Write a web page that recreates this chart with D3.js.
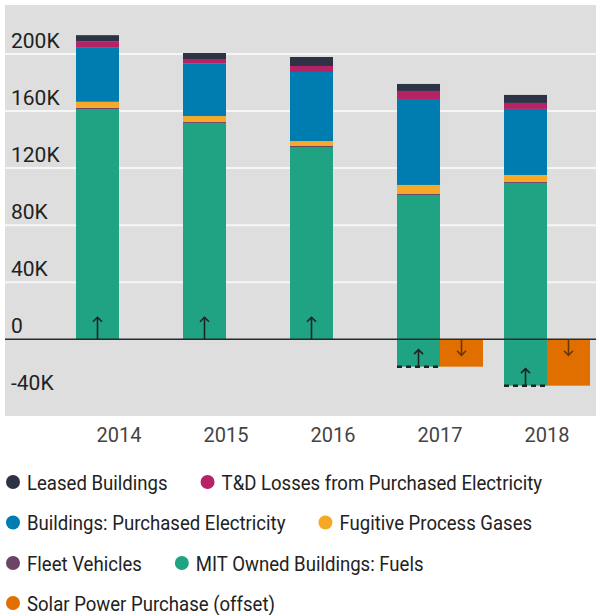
<!DOCTYPE html>
<html>
<head>
<meta charset="utf-8">
<script src="https://cdn.jsdelivr.net/npm/d3@7"></script>
<style>
  html, body { margin: 0; padding: 0; background: #fff; }
  svg { display: block; font-family: Roboto, "Noto Sans", sans-serif; }
</style>
</head>
<body>
<svg id="chart" width="596" height="615"></svg>
<script>
// ---- data (metric tons CO2e) ----
const years = ["2014", "2015", "2016", "2017", "2018"];
const ownedFuels = [161400, 151600, 134800, 120400, 142100];
const fleetVehicles = [900, 700, 700, 900, 700];
const fugitiveGases = [4200, 4200, 3500, 6100, 4900];
const purchasedElectricity = [38300, 36700, 48400, 59600, 46300];
const tdLosses = [4200, 3300, 4200, 6300, 4200];
const leasedBuildings = [4200, 4200, 6300, 4900, 5600];
const solarOffset = [0, 0, 0, 19200, 32500];
const yTicks = [-40000, 0, 40000, 80000, 120000, 160000, 200000];
const yTickLabels = ["-40K", "0", "40K", "80K", "120K", "160K", "200K"];

const seriesNames = ["MIT Owned Buildings: Fuels", "Fleet Vehicles", "Fugitive Process Gases",
  "Buildings: Purchased Electricity", "T&D Losses from Purchased Electricity", "Leased Buildings"];
const seriesValues = [ownedFuels, fleetVehicles, fugitiveGases, purchasedElectricity, tdLosses, leasedBuildings];
const colors = {
  "Leased Buildings": "#2e3245",
  "T&D Losses from Purchased Electricity": "#b52366",
  "Buildings: Purchased Electricity": "#007db0",
  "Fugitive Process Gases": "#f6a827",
  "Fleet Vehicles": "#6b4467",
  "MIT Owned Buildings: Fuels": "#1fa383",
  "Solar Power Purchase (offset)": "#e06f00"
};
const legendOrder = ["Leased Buildings", "T&D Losses from Purchased Electricity",
  "Buildings: Purchased Electricity", "Fugitive Process Gases",
  "Fleet Vehicles", "MIT Owned Buildings: Fuels", "Solar Power Purchase (offset)"];
const legendRows = [[0, 1], [2, 3], [4, 5], [6]];

// ---- layout ----
const svg = d3.select("#chart");
svg.append("rect").attr("x", 5).attr("y", 5).attr("width", 591).attr("height", 411).attr("fill", "#dedede");

const y = d3.scaleLinear().domain([0, 200000]).range([339.3, 54]);
const x = d3.scaleBand().domain(years).range([65.5, 600.5]).paddingInner(0.1963).paddingOuter(0.0981);
const xs = d3.scaleBand().domain(["emissions", "offset"]).range([0, x.bandwidth()]);

// gridlines
svg.append("g").selectAll("line").data(yTicks.filter(t => t > 0)).join("line")
  .attr("x1", 5).attr("x2", 596)
  .attr("y1", d => y(d)).attr("y2", d => y(d))
  .attr("stroke", "#f6f6f6").attr("stroke-width", 2);

// y labels
svg.append("g").selectAll("text").data(yTicks).join("text")
  .attr("x", 11).attr("y", d => y(d) - 6)
  .attr("font-size", 21).attr("fill", "#222")
  .text((d, i) => yTickLabels[i]);

// stacked data with baseline at -offset
const rows = years.map((yr, i) => {
  const r = { year: yr, offset: solarOffset[i] };
  seriesNames.forEach((s, k) => r[s] = seriesValues[k][i]);
  return r;
});
const stacked = d3.stack().keys(seriesNames)(rows);

const barG = svg.append("g");
stacked.forEach(layer => {
  barG.append("g").attr("fill", colors[layer.key]).selectAll("rect").data(layer).join("rect")
    .attr("x", d => x(d.data.year) + xs("emissions"))
    .attr("width", xs.bandwidth())
    .attr("y", d => y(d[1] - d.data.offset))
    .attr("height", d => y(d[0] - d.data.offset) - y(d[1] - d.data.offset));
});

// offset bars
const offRows = rows.filter(r => r.offset > 0);
svg.append("g").attr("fill", colors["Solar Power Purchase (offset)"]).selectAll("rect").data(offRows).join("rect")
  .attr("x", d => x(d.year) + xs("offset"))
  .attr("width", xs.bandwidth())
  .attr("y", y(0))
  .attr("height", d => y(-d.offset) - y(0));

// zero line
svg.append("line").attr("x1", 5).attr("x2", 596).attr("y1", y(0)).attr("y2", y(0))
  .attr("stroke", "#2a2a2a").attr("stroke-width", 1.6);

// dashed bottoms
svg.append("g").selectAll("line").data(offRows).join("line")
  .attr("x1", d => x(d.year) + xs("emissions")).attr("x2", d => x(d.year) + xs("emissions") + xs.bandwidth())
  .attr("y1", d => y(-d.offset)).attr("y2", d => y(-d.offset))
  .attr("stroke", "#222").attr("stroke-width", 2.5).attr("stroke-dasharray", "5,4");

// arrows
function arrow(g, cx, y0, len, dir, color) {
  const tip = y0 - dir * len;
  g.append("line").attr("x1", cx).attr("x2", cx).attr("y1", y0).attr("y2", tip)
    .attr("stroke", color).attr("stroke-width", 1.6);
  g.append("path").attr("d", `M${cx - 4.5},${tip + dir * 4.5}L${cx},${tip}L${cx + 4.5},${tip + dir * 4.5}`)
    .attr("fill", "none").attr("stroke", color).attr("stroke-width", 1.6);
}
const arrowG = svg.append("g");
rows.forEach(r => {
  const cx = x(r.year) + xs("emissions") + xs.bandwidth() / 2;
  arrow(arrowG, cx, y(-r.offset), r.offset > 0 ? 17 : 22, 1, "#222");
  if (r.offset > 0) {
    const ox = x(r.year) + xs("offset") + xs.bandwidth() / 2;
    arrow(arrowG, ox, y(0), 16, -1, "#6a3508");
  }
});

// x labels
svg.append("g").selectAll("text").data(years).join("text")
  .attr("x", d => x(d) + x.bandwidth() / 2).attr("y", 442)
  .attr("text-anchor", "middle").attr("font-size", 20).attr("fill", "#444")
  .text(d => d);

// legend
const squeeze = 0.885;
const legendG = svg.append("g");
const rowY = [482, 522.5, 563, 603];
legendRows.forEach((row, ri) => {
  let cx = 13;
  row.forEach(idx => {
    const name = legendOrder[idx];
    legendG.append("circle").attr("cx", cx).attr("cy", rowY[ri]).attr("r", 7).attr("fill", colors[name]);
    const t = legendG.append("text")
      .attr("transform", `translate(${cx + 14},${rowY[ri] + 7.5}) scale(${squeeze},1)`)
      .attr("font-size", 21).attr("fill", "#222").text(name);
    const w = t.node().getComputedTextLength() * squeeze;
    cx = cx + 14 + w + 40;
  });
});
</script>
</body>
</html>
